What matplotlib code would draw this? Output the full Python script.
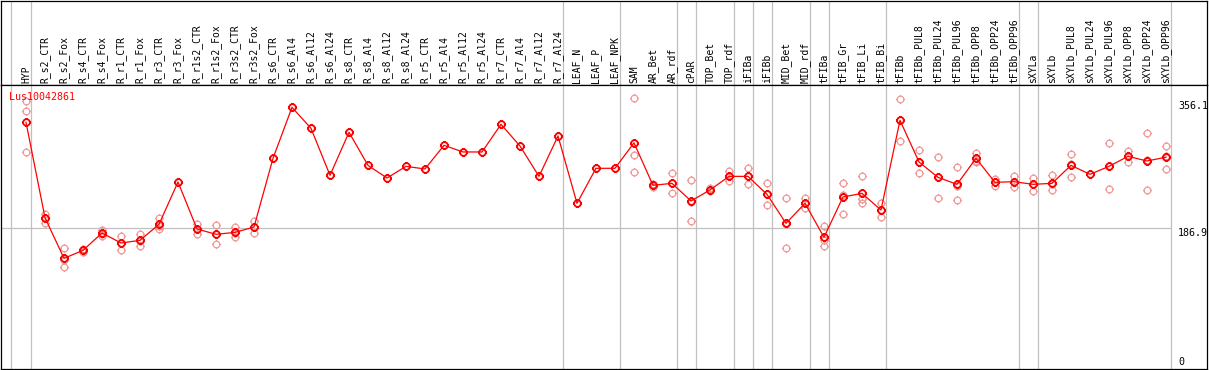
import matplotlib.pyplot as plt
import numpy as np
from matplotlib.path import Path

# sample names (one column each)
samples = ['HYP', 'R_s2_CTR', 'R_s2_Fox', 'R_s4_CTR', 'R_s4_Fox', 'R_r1_CTR', 'R_r1_Fox',
           'R_r3_CTR', 'R_r3_Fox', 'R_r1s2_CTR', 'R_r1s2_Fox', 'R_r3s2_CTR', 'R_r3s2_Fox',
           'R_s6_CTR', 'R_s6_Al4', 'R_s6_Al12', 'R_s6_Al24', 'R_s8_CTR', 'R_s8_Al4',
           'R_s8_Al12', 'R_s8_Al24', 'R_r5_CTR', 'R_r5_Al4', 'R_r5_Al12', 'R_r5_Al24',
           'R_r7_CTR', 'R_r7_Al4', 'R_r7_Al12', 'R_r7_Al24', 'LEAF_N', 'LEAF_P', 'LEAF_NPK',
           'SAM', 'AR_Bet', 'AR_rdf', 'cPAR', 'TOP_Bet', 'TOP_rdf', 'iFIBa', 'iFIBb',
           'MID_Bet', 'MID_rdf', 'tFIBa', 'tFIB_Gr', 'tFIB_Li', 'tFIB_Bi', 'tFIBb',
           'tFIBb_PUL8', 'tFIBb_PUL24', 'tFIBb_PUL96', 'tFIBb_OPP8', 'tFIBb_OPP24',
           'tFIBb_OPP96', 'sXYLa', 'sXYLb', 'sXYLb_PUL8', 'sXYLb_PUL24', 'sXYLb_PUL96',
           'sXYLb_OPP8', 'sXYLb_OPP24', 'sXYLb_OPP96']

# mean expression per sample
means = [327.7, 201.0, 147.0, 157.6, 180.7, 167.4, 170.9, 192.2, 248.4, 186.0,
         178.9, 181.5, 188.6, 279.8, 347.6, 319.7, 257.3, 314.4, 270.5, 253.7,
         269.2, 265.7, 297.1, 288.3, 288.3, 325.0, 296.2, 255.9, 309.5, 220.1,
         266.6, 266.6, 300.4, 244.0, 246.6, 223.2, 237.8, 255.9, 255.9, 232.0,
         193.5, 220.1, 174.9, 228.5, 233.3, 211.2, 330.3, 275.0, 254.6, 245.3,
         279.8, 248.0, 248.8, 245.3, 246.6, 270.5, 258.6, 269.2, 282.5, 276.3,
         281.4]

# individual replicates
replicates = [
    [356.4, 342.3, 287.8], [205.5, 201.0, 194.4], [160.3, 145.2, 135.5],
    [159.4, 157.6, 155.9], [185.1, 179.8, 176.2], [176.7, 167.4, 157.6],
    [178.9, 170.0, 163.8], [200.1, 190.4, 186.0], [],
    [192.2, 186.0, 179.8], [191.3, 179.8, 165.6], [188.6, 180.7, 175.3],
    [196.6, 188.6, 180.7],
    [], [], [], [], [], [], [], [], [], [], [], [], [], [], [], [], [], [], [],
    [360.0, 284.3, 262.1], [245.3, 242.2], [260.4, 246.6, 233.3],
    [251.1, 222.3, 196.2], [240.0, 236.5], [262.6, 255.9, 249.3],
    [266.6, 255.9, 245.3], [247.1, 232.0, 217.4], [227.2, 193.1, 160.3],
    [226.7, 220.1, 214.3], [190.0, 171.8, 163.0], [247.1, 231.1, 205.5],
    [255.9, 225.4, 220.1], [220.1, 211.2, 201.5], [358.7, 330.3, 302.4],
    [290.5, 275.0, 260.4], [281.2, 255.5, 226.7], [267.9, 243.5, 224.0],
    [286.5, 276.7, 274.5], [252.0, 248.0, 243.1], [256.4, 248.8, 241.3],
    [253.7, 245.3, 236.9], [257.3, 245.3, 237.3], [285.2, 271.9, 254.6],
    [], [299.8, 269.2, 239.1], [289.6, 282.5, 274.5], [313.1, 277.6, 237.3],
    [296.2, 282.5, 265.7],
]

# last sample of each group (separator drawn after it)
group_ends = [0, 28, 31, 34, 35, 37, 38, 39, 41, 42, 45, 52, 53, 60]
gene = 'Lus10042861'
y_marks = [356.1, 186.9, 0]

W, H = 1209, 370
fig = plt.figure(figsize=(W / 100, H / 100), dpi=100)

xl = ((1 - 26) / 19, (1207 - 26) / 19)
ax_h = fig.add_axes([1 / W, (H - 85) / H, 1206 / W, 84.5 / H])
ax = fig.add_axes([1 / W, 1 / H, 1206 / W, 284 / H])

for a in (ax_h, ax):
    a.set_xlim(*xl)
    a.set_xticks([])
    a.set_yticks([])
    for s in a.spines.values():
        s.set_linewidth(0.9)
        s.set_color('black')
    a.axvline(-0.8, color='#c0c0c0', lw=0.9, zorder=0)
    for g in group_ends:
        a.axvline(g + 0.25, color='#c0c0c0', lw=0.9, zorder=0)
ax_h.set_ylim(0, 1)

x = np.arange(len(samples))
for i, name in enumerate(samples):
    ax_h.text(i, 2 / 85, name, rotation=90, ha='center', va='bottom',
              family='DejaVu Sans Mono', fontsize=7)

ax.set_ylim(0, 284 / 0.7528)

# circle marker with small ticks
circ = Path.unit_circle()
ticks = Path([(0, 1), (0, 1.35), (0, -1), (0, -1.35), (1, 0), (1.35, 0), (-1, 0), (-1.35, 0)],
             [Path.MOVETO, Path.LINETO] * 4)
mk = Path.make_compound_path(circ, ticks)

ax.hlines(186.9, xl[0], (1170.7 - 26) / 19, color='#c0c0c0', lw=0.9, zorder=0)

for i, reps in enumerate(replicates):
    if reps:
        ax.plot([i] * len(reps), reps, linestyle='none', marker=mk, markersize=6.5,
                markerfacecolor='none', markeredgecolor='#f09a9a', markeredgewidth=0.9, zorder=2)

ax.plot(x, means, color='red', lw=0.9, zorder=3)
ax.plot(x, means, linestyle='none', marker=mk, markersize=6.5, markerfacecolor='none',
        markeredgecolor='red', markeredgewidth=1.3, zorder=4)

ax.text((9.3 - 26) / 19, (369 - 96.7) / 0.7528, gene, color='red', ha='left', va='center',
        family='DejaVu Sans Mono', fontsize=7.2)
xr = (1178 - 26) / 19
ax.text(xr, y_marks[0], '%.1f' % y_marks[0], ha='left', va='top', family='DejaVu Sans Mono', fontsize=7.2)
ax.text(xr, y_marks[1], '%.1f' % y_marks[1], ha='left', va='top', family='DejaVu Sans Mono', fontsize=7.2)
ax.text(xr, 2, '0', ha='left', va='bottom', family='DejaVu Sans Mono', fontsize=7.2)

fig.savefig('out.png', dpi=100)
